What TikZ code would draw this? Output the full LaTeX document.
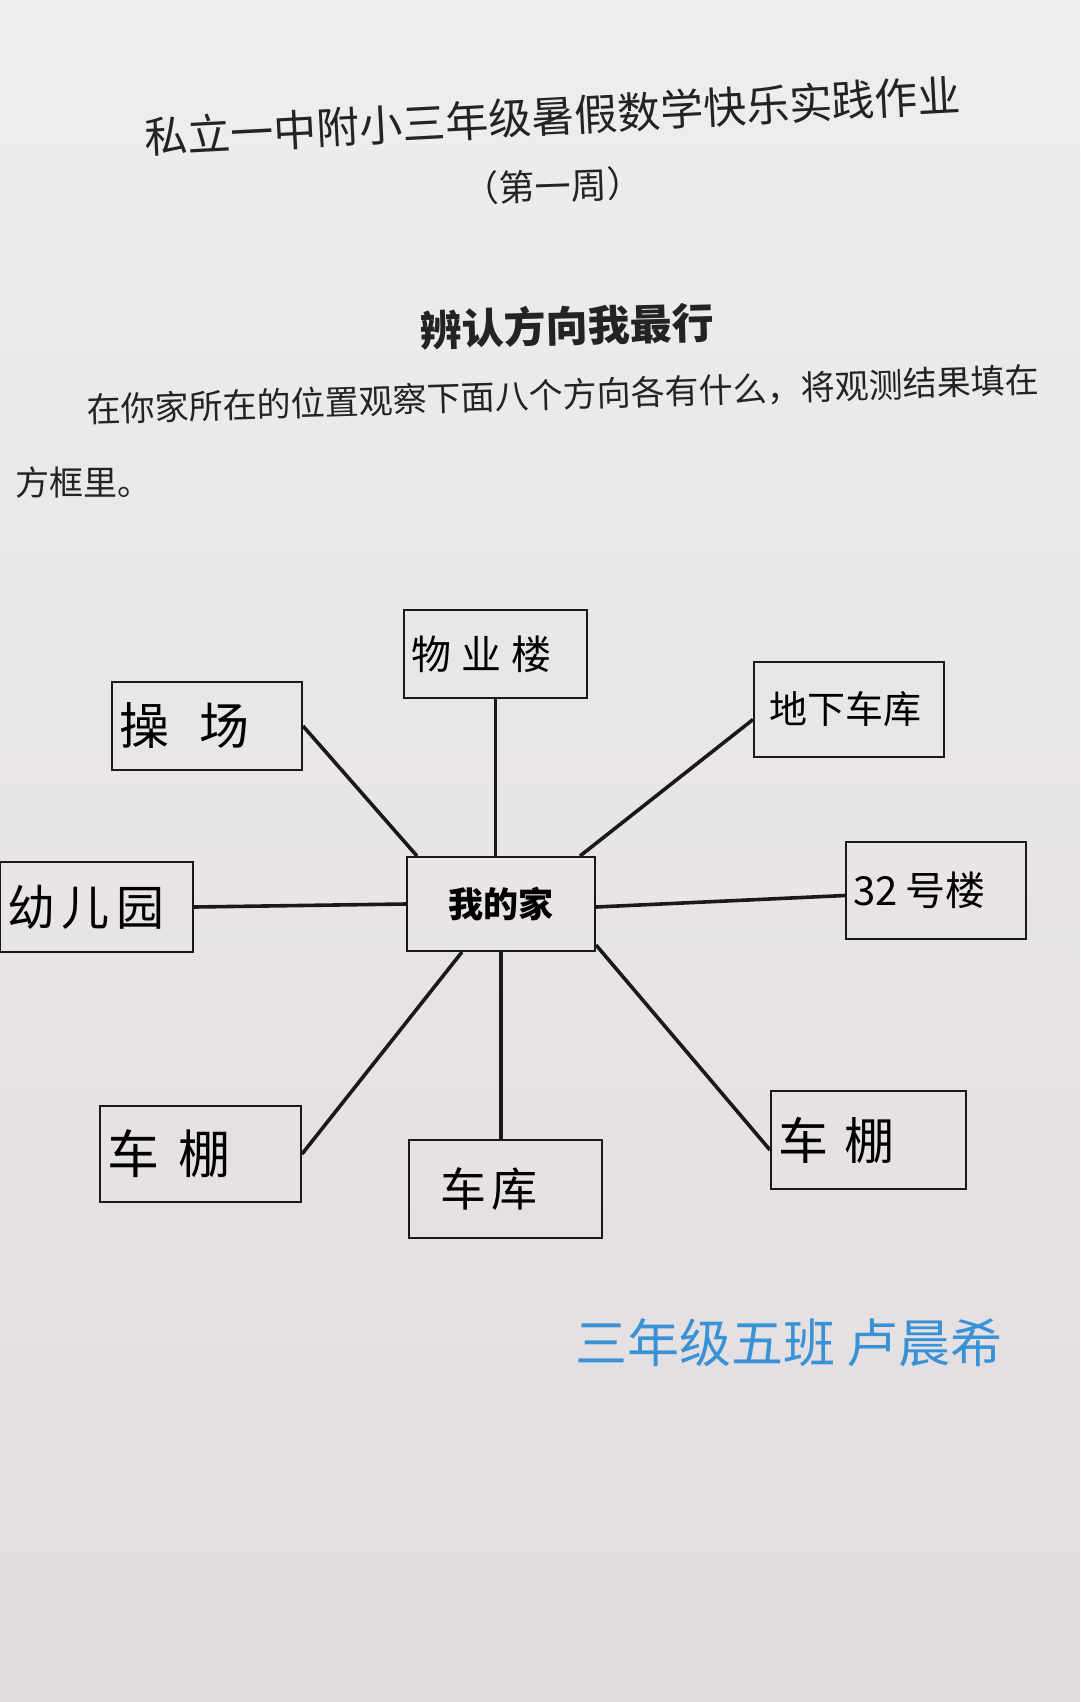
\documentclass[tikz,border=0pt]{standalone}
\usepackage{fontspec}
\newfontfamily\cjk{Noto Sans CJK SC}
\usetikzlibrary{positioning,calc}
\definecolor{paper}{RGB}{238,237,240}
\definecolor{paperlow}{RGB}{226,220,222}
\definecolor{ink}{RGB}{25,25,25}
\definecolor{print}{RGB}{35,35,35}
\definecolor{sign}{RGB}{58,146,214}
\newcommand\handfont[1]{\cjk\fontsize{#1}{#1}\selectfont}
\tikzset{ansbox/.style={draw=ink, line width=2pt, align=left, inner xsep=7pt, inner ysep=0pt}}
\tikzset{link/.style={draw=ink, line width=3.6pt}}
\tikzset{printed/.style={inner sep=0pt, text=print}}

\begin{document}
\begin{tikzpicture}[x=1pt, y=-1pt]
  \useasboundingbox (0,0) rectangle (1080,1702);
  \shade[top color=paper, bottom color=paperlow] (0,0) rectangle (1080,1702);
  % heading
  \node[printed, rotate=3, font=\handfont{43}] (title) at (553,116) {私立一中附小三年级暑假数学快乐实践作业};
  \node[printed, rotate=2, font=\handfont{36}] (week) at (553,186) {（第一周）};
  \node[printed, rotate=1.5, font=\handfont{42}\bfseries] (topic) at (567,326) {辨认方向我最行};
  \node[printed, rotate=1.8, anchor=west, font=\handfont{34}] (task) at (87,410) {在你家所在的位置观察下面八个方向各有什么，将观测结果填在};
  \node[printed, anchor=west, font=\handfont{34}] (task2) at (15,483) {方框里。};
  % boxes
  \node[ansbox, align=center, inner xsep=0pt, minimum width=188pt, minimum height=94pt, font=\handfont{35}\bfseries] (home) at (501,904) {我的家};
  \node[ansbox, minimum width=183pt, text width=169pt, minimum height=88pt, font=\handfont{40}] (wuye) at (495.5,654) {物\hspace{10pt}业\hspace{10pt}楼};
  \node[ansbox, minimum width=190pt, text width=176pt, minimum height=88pt, font=\handfont{50}] (cao) at (207,726) {操\hspace{30pt}场};
  \node[ansbox, minimum width=190pt, text width=176pt, minimum height=95pt, font=\handfont{38}] (dixia) at (849,709.5) {\hspace{8pt}地下车库};
  \node[ansbox, minimum width=193pt, text width=179pt, minimum height=90pt, font=\handfont{48}] (you) at (96.5,907) {幼\hspace{7pt}儿\hspace{7pt}园};
  \node[ansbox, minimum width=180pt, text width=166pt, minimum height=97pt, font=\handfont{40}] (lou) at (936,890.5) {32\hspace{8pt}号楼};
  \node[ansbox, minimum width=201pt, text width=187pt, minimum height=96pt, font=\handfont{52}] (pengl) at (200.5,1154) {车\hspace{20pt}棚};
  \node[ansbox, minimum width=193pt, text width=179pt, minimum height=98pt, font=\handfont{46}] (ku) at (505.5,1189) {\hspace{24pt}车\hspace{6pt}库};
  \node[ansbox, minimum width=195pt, text width=181pt, minimum height=98pt, font=\handfont{50}] (pengr) at (868.5,1140) {车\hspace{16pt}棚};
  % lines to the home box
  \draw[link] (wuye.south) -- (wuye.south |- home.north);
  \draw[link] (cao.east) -- ([xshift=11pt]home.north west);
  \draw[link] ([yshift=-10pt]dixia.west) -- ([xshift=-16pt]home.north east);
  \draw[link] (you.east) -- (home.west);
  \draw[link] ([yshift=-5pt]lou.west) -- ([yshift=-3pt]home.east);
  \draw[link] ([xshift=56pt]home.south west) -- (pengl.east);
  \draw[link] (home.south) -- (home.south |- ku.north);
  \draw[link] ([yshift=7pt]home.south east) -- ([yshift=-10pt]pengr.west);
  % name
  \node[inner sep=0pt, anchor=west, text=sign, font=\handfont{52}] (name) at (575,1343) {三年级五班 卢晨希};
\end{tikzpicture}
\end{document}
